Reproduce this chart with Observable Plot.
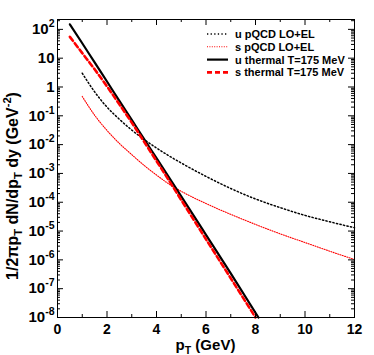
<!DOCTYPE html>
<html><head><meta charset="utf-8">
<script src="https://cdn.jsdelivr.net/npm/d3@7"></script>
<script src="https://cdn.jsdelivr.net/npm/@observablehq/plot@0.6"></script>
<style>
body{margin:0;background:#fff}
svg{display:block}
</style>
</head><body><div id="chart"></div>
<script>
// ---- data ----
const uPqcdPt = [1.0, 1.5, 2.0, 2.5, 3.0, 3.5, 4.0, 4.5, 5.0, 6.0, 7.0, 8.0, 9.0, 10.0, 11.0, 12.0];
const uPqcd   = [3.0, 0.68, 0.20, 7.6e-2, 3.2e-2, 1.5e-2, 7.6e-3, 4.1e-3, 2.3e-3, 7.9e-4, 3.0e-4, 1.3e-4, 6.5e-5, 3.5e-5, 2.1e-5, 1.3e-5];

const sPqcdPt = [1.0, 1.5, 2.0, 2.5, 3.0, 3.5, 4.0, 4.5, 5.0, 6.0, 7.0, 8.0, 9.0, 10.0, 11.0, 12.0];
const sPqcd   = [0.47, 0.105, 3.1e-2, 1.1e-2, 4.5e-3, 1.9e-3, 8.8e-4, 4.3e-4, 2.4e-4, 9.0e-5, 3.8e-5, 1.7e-5, 8.0e-6, 4.0e-6, 2.0e-6, 1.03e-6];

const uThermalPt = [0.5, 1.0, 1.5, 2.0, 2.5, 3.0, 3.5, 4.0, 5.0, 6.0, 7.0, 8.12];
const uThermal   = [1.5e2, 33, 7.1, 1.55, 0.33, 7.2e-2, 1.55e-2, 3.4e-3, 1.6e-4, 7.4e-6, 3.4e-7, 1.0e-8];

const sThermalPt = [0.5, 1.0, 1.5, 2.0, 2.5, 3.0, 3.5, 4.0, 5.0, 6.0, 7.0, 8.0];
const sThermal   = [55, 15, 4.1, 1.05, 0.25, 5.8e-2, 1.26e-2, 2.7e-3, 1.2e-4, 5.2e-6, 2.3e-7, 1.0e-8];

const seriesNames = ["u pQCD LO+EL", "s pQCD LO+EL", "u thermal T=175 MeV", "s thermal T=175 MeV"];

const xTicks = [0, 2, 4, 6, 8, 10, 12];
const xMinorTicks = [1, 3, 5, 7, 9, 11];
const yTicks = [1e-8, 1e-7, 1e-6, 1e-5, 1e-4, 1e-3, 1e-2, 1e-1, 1, 10, 1e2];
const yTickLabels = ["10^-8", "10^-7", "10^-6", "10^-5", "10^-4", "10^-3", "10^-2", "10^-1", "1", "10", "10^2"];
const yMinorMult = [2, 3, 4, 5, 6, 7, 8, 9];

// ---- layout / style ----
const W = 374, H = 355;
const mL = 57, mR = 20, mT = 19, mB = 38;
const xDom = [0, 12], yDom = [1e-8, 2.2e2];
const font = "'Liberation Sans', Arial, Helvetica, sans-serif";
const styles = [
  {stroke: "#000", strokeWidth: 1.5, strokeDasharray: "1.3,2.3"},
  {stroke: "#ff0000", strokeWidth: 1.1, strokeDasharray: "1,1.4"},
  {stroke: "#000", strokeWidth: 2.2, strokeDasharray: null},
  {stroke: "#ff0000", strokeWidth: 2.6, strokeDasharray: "5,3"}
];

const toRows = (pt, v) => pt.map((p, i) => ({pt: p, v: v[i]}));
const series = [toRows(uPqcdPt, uPqcd), toRows(sPqcdPt, sPqcd), toRows(uThermalPt, uThermal), toRows(sThermalPt, sThermal)];

const yMinor = [];
for (let e = -8; e <= 2; e++) for (const m of yMinorMult) { const v = m * Math.pow(10, e); if (v < yDom[1]) yMinor.push(v); }

// tick lengths expressed in data units
const pxX = (W - mL - mR) / (xDom[1] - xDom[0]);
const pxDec = (H - mT - mB) / (Math.log10(yDom[1]) - Math.log10(yDom[0]));
const major = 6, minor = 3;
const xLen = n => n / pxX;
const yFac = n => Math.pow(10, n / pxDec);

const marks = [];
series.forEach((rows, i) => {
  const s = styles[i];
  marks.push(Plot.line(rows, {x: "pt", y: "v", curve: "monotone-x", stroke: s.stroke, strokeWidth: s.strokeWidth, strokeDasharray: s.strokeDasharray}));
});
// inward ticks (bottom/top)
marks.push(Plot.ruleX(xTicks, {x: d => d, y1: yDom[0], y2: yDom[0] * yFac(major), stroke: "#000"}));
marks.push(Plot.ruleX(xTicks, {x: d => d, y1: yDom[1], y2: yDom[1] / yFac(major), stroke: "#000"}));
marks.push(Plot.ruleX(xMinorTicks, {x: d => d, y1: yDom[0], y2: yDom[0] * yFac(minor), stroke: "#000"}));
marks.push(Plot.ruleX(xMinorTicks, {x: d => d, y1: yDom[1], y2: yDom[1] / yFac(minor), stroke: "#000"}));
// inward ticks (left/right)
marks.push(Plot.ruleY(yTicks, {y: d => d, x1: xDom[0], x2: xDom[0] + xLen(major), stroke: "#000"}));
marks.push(Plot.ruleY(yTicks, {y: d => d, x1: xDom[1], x2: xDom[1] - xLen(major), stroke: "#000"}));
marks.push(Plot.ruleY(yMinor, {y: d => d, x1: xDom[0], x2: xDom[0] + xLen(minor), stroke: "#000"}));
marks.push(Plot.ruleY(yMinor, {y: d => d, x1: xDom[1], x2: xDom[1] - xLen(minor), stroke: "#000"}));
marks.push(Plot.axisX({ticks: xTicks, tickSize: 0, tickPadding: 7, tickFormat: d => String(d), label: null, fontSize: 14, fontWeight: "bold"}));
marks.push(Plot.axisY({ticks: yTicks, tickSize: 0, tickPadding: 3, tickFormat: d => yTickLabels[yTicks.indexOf(d)], label: null, fontSize: 15, fontWeight: "bold"}));
marks.push(Plot.frame({stroke: "#000", strokeWidth: 1}));

const svgEl = Plot.plot({
  width: W, height: H,
  marginLeft: mL, marginRight: mR, marginTop: mT, marginBottom: mB,
  style: {fontFamily: font, color: "#000", background: "#fff", overflow: "visible"},
  x: {domain: xDom},
  y: {type: "log", domain: yDom},
  marks
});
document.getElementById("chart").appendChild(svgEl);

const svg = d3.select(svgEl);
svg.selectAll("text").attr("fill", "#000");

// superscripts in y tick labels
svg.selectAll('[aria-label="y-axis tick label"] text').each(function() {
  const t = d3.select(this);
  const s = t.text();
  if (s.includes("^")) {
    const [b, e] = s.split("^");
    t.text(b);
    t.append("tspan").attr("dy", -7).attr("font-size", 10.5).text(e);
  }
});

// rich text helper: parts = [[text, kind]] kind: n / sub / sup
function rich(sel, parts, base) {
  let shift = 0;
  for (const [txt, kind] of parts) {
    const target = kind === "sub" ? 4 : kind === "sup" ? -7 : 0;
    const ts = sel.append("tspan").attr("dy", target - shift).text(txt);
    if (kind !== "n") ts.attr("font-size", base * 0.7);
    shift = target;
  }
}

// x label
const xl = svg.append("text").attr("x", mL + (W - mL - mR) / 2).attr("y", 350)
  .attr("text-anchor", "middle").attr("font-size", 15).attr("font-weight", "bold").attr("font-family", font).attr("fill", "#000");
rich(xl, [["p", "n"], ["T", "sub"], [" (GeV)", "n"]], 15);

// y label
const yl = svg.append("text").attr("transform", "translate(18,186) rotate(-90)")
  .attr("text-anchor", "middle").attr("font-size", 16).attr("font-weight", "bold").attr("font-family", font).attr("fill", "#000");
rich(yl, [["1/2πp", "n"], ["T", "sub"], [" dN/dp", "n"], ["T", "sub"], [" dy (GeV", "n"], ["-2", "sup"], [")", "n"]], 16);

// legend
const lg = svg.append("g").attr("font-family", font).attr("font-size", 11).attr("font-weight", "bold").attr("text-anchor", "start");
seriesNames.forEach((name, i) => {
  const y = 34 + i * 12.8;
  const s = styles[i];
  lg.append("line").attr("x1", 207).attr("x2", 228).attr("y1", y).attr("y2", y)
    .attr("stroke", s.stroke).attr("stroke-width", s.strokeWidth)
    .attr("stroke-dasharray", s.strokeDasharray);
  lg.append("text").attr("x", 235).attr("y", y).attr("dy", "0.36em").attr("fill", "#000").text(name);
});
</script>
</body></html>
